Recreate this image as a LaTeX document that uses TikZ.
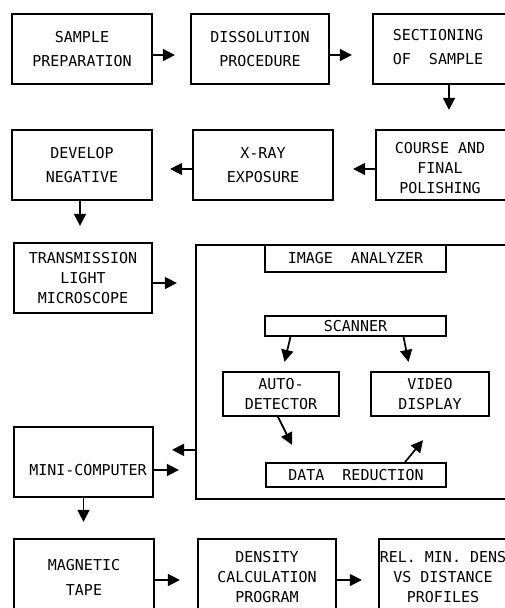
\documentclass[tikz,border=0pt]{standalone}
\usepackage{fontspec}
\newfontfamily\plotfont{DejaVu Sans Mono}
\usetikzlibrary{arrows.meta}
\begin{document}
\begin{tikzpicture}[x=1pt,y=-1pt,
  box/.style={draw, line width=1.7pt, minimum width=140pt, minimum height=70pt, inner sep=0pt, align=center, font=\plotfont\fontsize{15}{20}\selectfont},
  lbl/.style={align=center, inner sep=0pt, font=\plotfont\fontsize{15}{20}\selectfont},
  arr/.style={line width=1.7pt, -{Triangle[length=12pt,width=12pt]}}]
\clip (0,0) rectangle (505,608);

% First row
\node[box] (prep) at (82,49) {SAMPLE\\[4pt]PREPARATION};
\node[box, minimum width=138pt] (diss) at (260,49) {DISSOLUTION\\[4pt]PROCEDURE};
\node[box, minimum width=150pt] (sect) at (448,49) {};
\node[lbl] (sectt) at (438,47) {SECTIONING\\[4pt]OF~~SAMPLE};
\draw[arr] ([yshift=-6pt]prep.east) -- ++(22,0);
\draw[arr] ([yshift=-6pt]diss.east) -- ++(22,0);
\draw[arr] ([xshift=1pt]sect.south) -- ++(0,25);

% Second row
\node[box] (devel) at (82,165) {DEVELOP\\[4pt]NEGATIVE};
\node[box] (xray) at (263,165) {X-RAY\\[4pt]EXPOSURE};
\node[box, minimum width=150pt] (polish) at (451,165) {};
\node[lbl] (polisht) at (440,168) {COURSE AND\\FINAL\\POLISHING};
\draw[arr] ([yshift=-4pt]polish.west) -- ++(-22,0);
\draw[arr] ([yshift=-4pt]xray.west) -- ++(-22,0);
\draw[arr] ([xshift=-2pt]devel.south) -- ++(0,25);

% Microscope
\node[box, minimum width=138pt] (trans) at (83,278) {TRANSMISSION\\LIGHT\\MICROSCOPE};
\draw[arr] ([yshift=-5pt]trans.east) -- ++(24,0);

% Image analyzer
\node[draw, line width=1.7pt, minimum width=340pt, minimum height=254pt, inner sep=0pt, anchor=north west] (anlz) at (195,244) {};
\node[box, minimum width=181pt, minimum height=27pt, anchor=north] (imga) at (355.5,244) {IMAGE~~ANALYZER};
\node[box, minimum width=181pt, minimum height=20pt] (scan) at (355.5,326) {SCANNER};
\node[box, minimum width=116pt, minimum height=44pt] (auto) at (281,394) {AUTO-\\DETECTOR};
\node[box, minimum width=118pt, minimum height=44pt] (video) at (430,394) {VIDEO\\DISPLAY};
\node[box, minimum width=180pt, minimum height=24pt] (dred) at (356,475) {DATA~~REDUCTION};
\draw[arr] ([xshift=-65pt]scan.south) -- ++(-6,25);
\draw[arr] ([xshift=48pt]scan.south) -- ++(5,25);
\draw[arr] ([xshift=-3pt]auto.south) -- ++(14,28);
\draw[arr] ([xshift=49pt]dred.north) -- ++(18,-22);

% Mini-computer
\node[box, minimum width=139pt] (mini) at (83.5,462) {};
\node[lbl] (minit) at (88,470) {MINI-COMPUTER};
\draw[arr] ([yshift=-78pt]anlz.west) -- ++(-23,0);
\draw[arr] ([yshift=-8pt]mini.east) -- ++(25,0);
\draw[arr] (mini.south) -- ++(0,24);

% Last row
\node[box, minimum height=76pt] (tape) at (84,577) {MAGNETIC\\[5pt]TAPE};
\node[box, minimum width=138pt, minimum height=76pt] (dens) at (267,577) {DENSITY\\CALCULATION\\PROGRAM};
\node[box, minimum width=150pt, minimum height=76pt] (prof) at (454,577) {};
\node[lbl] (proft) at (443,577) {REL.~MIN.~DENS\\VS DISTANCE\\PROFILES};
\draw[arr] ([yshift=-3pt]tape.east) -- ++(25,0);
\draw[arr] ([yshift=-3pt]dens.east) -- ++(25,0);

\end{tikzpicture}
\end{document}
